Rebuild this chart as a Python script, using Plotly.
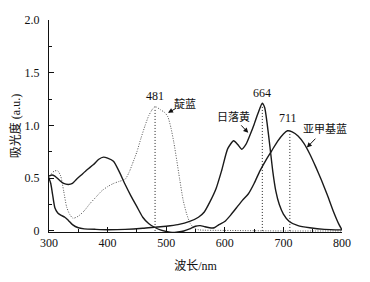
import plotly.graph_objects as go

# 日落黄 (664 nm peak)
sy_x = [300, 303, 306, 310, 315, 320, 327, 333, 340, 350, 360, 380, 400, 430, 460, 480,
        500, 520, 540, 555, 565, 575, 585, 595, 605, 615, 622, 629, 636, 643, 650, 657,
        664, 668, 672, 677, 682, 687, 693, 700, 710, 725, 745, 770, 800]
sy_y = [0.50, 0.45, 0.35, 0.22, 0.17, 0.15, 0.13, 0.10, 0.06, 0.03, 0.02, 0.015, 0.012, 0.015, 0.025, 0.035,
        0.045, 0.06, 0.09, 0.13, 0.18, 0.28, 0.40, 0.58, 0.78, 0.855, 0.82, 0.775, 0.82, 0.91, 1.01, 1.12,
        1.21, 1.17, 1.03, 0.80, 0.56, 0.38, 0.25, 0.16, 0.09, 0.05, 0.03, 0.015, 0.01]

# 亚甲基蓝 (711 nm peak)
mb_x = [300, 305, 310, 318, 325, 333, 340, 347, 355, 365, 376, 385, 393, 400, 410, 420,
        430, 440, 450, 460, 470, 480, 490, 500, 510, 520, 530, 540, 550, 558, 566, 574,
        582, 590, 600, 610, 620, 630, 640, 650, 660, 670, 680, 690, 700, 707, 715, 725,
        735, 745, 755, 765, 775, 785, 795, 800]
mb_y = [0.52, 0.53, 0.52, 0.48, 0.45, 0.44, 0.45, 0.49, 0.53, 0.58, 0.63, 0.68, 0.70, 0.69, 0.66, 0.56,
        0.44, 0.33, 0.23, 0.13, 0.07, 0.035, 0.01, -0.005, -0.015, -0.01, 0.0, 0.02, 0.045, 0.05, 0.04, 0.03,
        0.03, 0.06, 0.09, 0.15, 0.22, 0.29, 0.35, 0.45, 0.57, 0.67, 0.76, 0.85, 0.92, 0.95, 0.94, 0.90,
        0.83, 0.73, 0.61, 0.48, 0.34, 0.19, 0.06, 0.01]

# 靛蓝 (481 nm peak)
ib_x = [300, 305, 310, 315, 320, 325, 330, 335, 341, 350, 360, 370, 380, 390, 400, 410,
        420, 430, 437, 444, 450, 457, 464, 470, 476, 481, 490, 498, 503, 508, 513, 518,
        523, 529, 535, 541, 548, 556, 600, 700, 800]
ib_y = [0.50, 0.55, 0.57, 0.57, 0.52, 0.38, 0.23, 0.16, 0.12, 0.14, 0.19, 0.26, 0.32, 0.38, 0.42, 0.45,
        0.47, 0.49, 0.56, 0.66, 0.75, 0.88, 1.00, 1.09, 1.15, 1.18, 1.15, 1.12, 1.08, 0.98, 0.84, 0.67,
        0.49, 0.29, 0.16, 0.07, 0.025, 0.01, 0.005, 0.0, 0.0]

peak_x = [481, 664, 711]
peak_y = [1.17, 1.20, 0.94]
peak_labels = ["481", "664", "711"]

y_ticks = [0, 0.5, 1.0, 1.5, 2.0]
y_tick_text = ["0", "0.5", "1.0", "1.5", "2.0"]
x_ticks = [300, 400, 500, 600, 700, 800]

FONT = "Liberation Serif, Noto Sans CJK SC, serif"

fig = go.Figure()
fig.add_trace(go.Scatter(x=ib_x, y=ib_y, mode="lines", line=dict(color="#555", width=1, dash="1px,1.5px", shape="spline", smoothing=0.6), showlegend=False))
fig.add_trace(go.Scatter(x=sy_x, y=sy_y, mode="lines", line=dict(color="#1a1a1a", width=1.4, shape="spline", smoothing=0.6), showlegend=False))
fig.add_trace(go.Scatter(x=mb_x, y=mb_y, mode="lines", line=dict(color="#1a1a1a", width=1.4, shape="spline", smoothing=0.6), showlegend=False))
for px, py in zip(peak_x, peak_y):
    fig.add_trace(go.Scatter(x=[px, px], y=[0, py], mode="lines", line=dict(color="#222", width=1, dash="1px,2px"), showlegend=False))

label_pos = [(481, 1.28), (664, 1.31), (708, 1.07)]
for (ax_, ay_), t in zip(label_pos, peak_labels):
    fig.add_annotation(x=ax_, y=ay_, text=t, showarrow=False, font=dict(size=12, color="#111", family=FONT))

names = [("靛蓝", 532, 1.21, 503, 1.12), ("日落黄", 614, 1.085, 640, 0.93), ("亚甲基蓝", 771, 0.97, 740, 0.79)]
for t, tx, ty, hx, hy in names:
    fig.add_annotation(x=tx, y=ty, text=t, showarrow=False, font=dict(size=11, color="#111", family=FONT))
    fig.add_annotation(x=hx, y=hy, ax=hx + (tx - hx) * 0.55, ay=hy + (ty - hy) * 0.55, axref="x", ayref="y",
                       text="", showarrow=True, arrowhead=2, arrowsize=1, arrowwidth=1, arrowcolor="#111")

fig.update_layout(
    width=370, height=282,
    margin=dict(l=41, r=36, t=12, b=58, autoexpand=False),
    plot_bgcolor="white", paper_bgcolor="white",
    font=dict(family=FONT, size=12, color="#111"),
    xaxis=dict(range=[300, 800], tickvals=x_ticks, ticks="inside", ticklen=5, tickcolor="#111",
               showline=True, linecolor="#111", linewidth=1, showgrid=False, zeroline=False,
               minor=dict(dtick=50, tick0=300, ticks="inside", ticklen=3, tickcolor="#111"),
               title=dict(text="波长/nm", font=dict(size=12), standoff=12),
               tickfont=dict(size=12), automargin=False),
    yaxis=dict(range=[-0.01, 2.0], tickvals=y_ticks, ticktext=y_tick_text, ticks="inside", ticklen=5,
               tickcolor="#111", showline=True, linecolor="#111", linewidth=1, showgrid=False, zeroline=False,
               minor=dict(dtick=0.25, tick0=0, ticks="inside", ticklen=3, tickcolor="#111"),
               title=dict(text="吸光度 (a.u.)", font=dict(size=12), standoff=8),
               tickfont=dict(size=12), ticklabelstandoff=6, automargin=False),
)

fig.write_html("out.html")
